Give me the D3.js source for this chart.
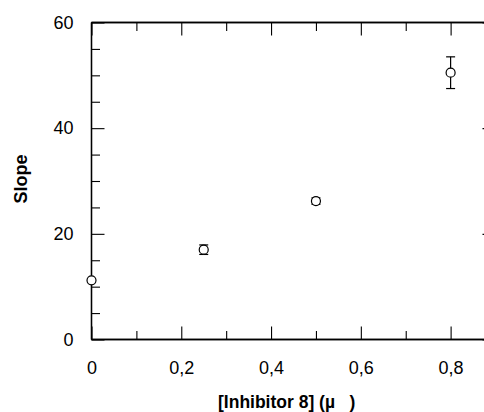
<!DOCTYPE html>
<html>
<head>
<meta charset="utf-8">
<script src="https://cdn.jsdelivr.net/npm/d3@7"></script>
<style>
  html, body { margin: 0; padding: 0; background: #fff; }
  svg { display: block; }
  text { font-family: "Liberation Sans", Arial, sans-serif; fill: #000; }
</style>
</head>
<body>
<svg id="chart" width="484" height="412"></svg>
<script>
// Inhibitor concentrations and measured slopes with error
const concentrations = [0, 0.25, 0.5, 0.8];
const slopes = [11.2, 17.0, 26.2, 50.5];
const slopeErrors = [0.0, 0.9, 0.6, 3.0];

const xMajorTicks = [0, 0.2, 0.4, 0.6, 0.8];
const xMinorTicks = [0.1, 0.3, 0.5, 0.7, 0.9];
const yMajorTicks = [0, 20, 40, 60];
const yMinorTicks = [5, 10, 15, 25, 30, 35, 45, 50, 55];
const xTickLabels = ["0", "0,2", "0,4", "0,6", "0,8"];

const xTitle = "[Inhibitor 8] (\u00B5   )";
const yTitle = "Slope";

const svg = d3.select("#chart");
const plotLeft = 91.5, plotTop = 22.5, plotRight = 495.5, plotBottom = 339.5;

const x = d3.scaleLinear().domain([0, 0.9]).range([plotLeft, plotRight]);
const y = d3.scaleLinear().domain([0, 60]).range([plotBottom, plotTop]);

const majorLen = 13, minorLen = 8.5;
const fmt = (d) => xTickLabels[xMajorTicks.indexOf(d)];

// Frame: bottom/left axes carry labels, top/right carry inward ticks only
const gB = svg.append("g").attr("transform", `translate(0,${plotBottom})`)
  .call(d3.axisBottom(x).tickValues(xMajorTicks).tickFormat(fmt).tickSize(-majorLen).tickPadding(22));
const gBm = svg.append("g").attr("transform", `translate(0,${plotBottom})`)
  .call(d3.axisBottom(x).tickValues(xMinorTicks).tickFormat("").tickSize(-minorLen));
const gT = svg.append("g").attr("transform", `translate(0,${plotTop})`)
  .call(d3.axisTop(x).tickValues(xMajorTicks).tickFormat("").tickSize(-majorLen));
const gTm = svg.append("g").attr("transform", `translate(0,${plotTop})`)
  .call(d3.axisTop(x).tickValues(xMinorTicks).tickFormat("").tickSize(-minorLen));

const gL = svg.append("g").attr("transform", `translate(${plotLeft},0)`)
  .call(d3.axisLeft(y).tickValues(yMajorTicks).tickFormat(d3.format("d")).tickSize(-majorLen).tickPadding(18));
const gLm = svg.append("g").attr("transform", `translate(${plotLeft},0)`)
  .call(d3.axisLeft(y).tickValues(yMinorTicks).tickFormat("").tickSize(-minorLen));
const gR = svg.append("g").attr("transform", `translate(${plotRight},0)`)
  .call(d3.axisRight(y).tickValues(yMajorTicks).tickFormat("").tickSize(-majorLen));
const gRm = svg.append("g").attr("transform", `translate(${plotRight},0)`)
  .call(d3.axisRight(y).tickValues(yMinorTicks).tickFormat("").tickSize(-minorLen));

// Plain frame lines without the outer end stubs
[gB, gBm, gT, gTm].forEach(g => g.select(".domain").attr("d", `M${plotLeft},0H${plotRight}`));
[gL, gLm, gR, gRm].forEach(g => g.select(".domain").attr("d", `M0,${plotTop}V${plotBottom}`));

svg.selectAll(".domain").attr("stroke", "#000").attr("stroke-width", 1.3);
svg.selectAll(".tick line").attr("stroke", "#000").attr("stroke-width", 1.1);
svg.selectAll(".tick text").attr("font-size", 18).attr("font-family", "Liberation Sans, Arial, sans-serif").attr("fill", "#000");

// Error bars
const capHalf = 4.5;
const eb = svg.append("g").attr("stroke", "#000").attr("stroke-width", 1.2);
concentrations.forEach((c, i) => {
  const e = slopeErrors[i];
  if (e <= 0) return;
  const cx = x(c);
  eb.append("line").attr("x1", cx).attr("x2", cx).attr("y1", y(slopes[i] - e)).attr("y2", y(slopes[i] + e));
  eb.append("line").attr("x1", cx - capHalf).attr("x2", cx + capHalf).attr("y1", y(slopes[i] + e)).attr("y2", y(slopes[i] + e));
  eb.append("line").attr("x1", cx - capHalf).attr("x2", cx + capHalf).attr("y1", y(slopes[i] - e)).attr("y2", y(slopes[i] - e));
});

// Open circle markers
svg.append("g").selectAll("circle")
  .data(concentrations)
  .join("circle")
  .attr("cx", d => x(d))
  .attr("cy", (d, i) => y(slopes[i]))
  .attr("r", 4.5)
  .attr("fill", "#fff")
  .attr("stroke", "#000")
  .attr("stroke-width", 1.2);

// Axis titles
svg.append("text")
  .attr("x", 218).attr("y", 407.5)
  .attr("text-anchor", "start")
  .attr("font-size", 17.5).attr("font-weight", "bold")
  .style("white-space", "pre")
  .attr("xml:space", "preserve")
  .text(xTitle);

svg.append("text")
  .attr("transform", "translate(27,179) rotate(-90)")
  .attr("text-anchor", "middle")
  .attr("font-size", 18).attr("font-weight", "bold")
  .text(yTitle);
</script>
</body>
</html>
